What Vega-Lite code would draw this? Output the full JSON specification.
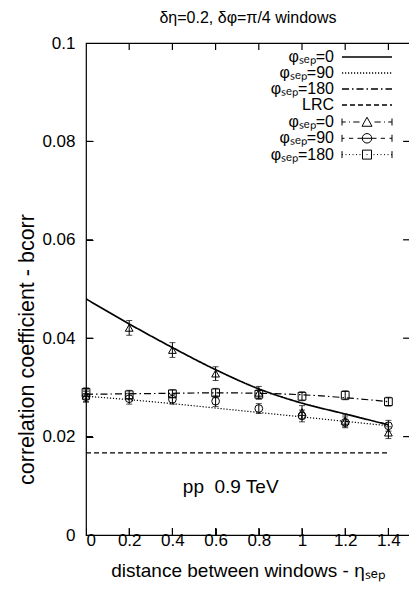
{
  "$schema": "https://vega.github.io/schema/vega-lite/v6.json",
  "width": 324,
  "height": 492,
  "autosize": {"type": "none"},
  "padding": {"left": 86, "top": 43, "right": 0, "bottom": 54},
  "title": {"text": "δη=0.2, δφ=π/4 windows", "fontSize": 16, "font": "Liberation Sans", "fontWeight": "normal", "offset": 8, "anchor": "middle", "color": "black"},
  "config": {
    "view": {"stroke": "black", "strokeWidth": 1.2},
    "font": "Liberation Sans",
    "legend": {"padding": 0},
    "axis": {"labelFont": "Liberation Sans", "labelFontSize": 17, "labelColor": "black", "titleFont": "Liberation Sans", "titleFontWeight": "normal", "titleColor": "black", "domain": false, "grid": false, "offset": -7}
  },
  "datasets": {
    "curves": [
      {"x": 0, "y": 0.048, "curve": "φₛₑₚ=0"},
      {"x": 0.2, "y": 0.0429, "curve": "φₛₑₚ=0"},
      {"x": 0.4, "y": 0.0381, "curve": "φₛₑₚ=0"},
      {"x": 0.6, "y": 0.0336, "curve": "φₛₑₚ=0"},
      {"x": 0.8, "y": 0.0297, "curve": "φₛₑₚ=0"},
      {"x": 1.0, "y": 0.0268, "curve": "φₛₑₚ=0"},
      {"x": 1.2, "y": 0.0246, "curve": "φₛₑₚ=0"},
      {"x": 1.4, "y": 0.0224, "curve": "φₛₑₚ=0"},
      {"x": 0, "y": 0.0282, "curve": "φₛₑₚ=90"},
      {"x": 0.2, "y": 0.0275, "curve": "φₛₑₚ=90"},
      {"x": 0.4, "y": 0.0267, "curve": "φₛₑₚ=90"},
      {"x": 0.6, "y": 0.0258, "curve": "φₛₑₚ=90"},
      {"x": 0.8, "y": 0.0249, "curve": "φₛₑₚ=90"},
      {"x": 1.0, "y": 0.024, "curve": "φₛₑₚ=90"},
      {"x": 1.2, "y": 0.0231, "curve": "φₛₑₚ=90"},
      {"x": 1.4, "y": 0.0222, "curve": "φₛₑₚ=90"},
      {"x": 0, "y": 0.0286, "curve": "φₛₑₚ=180"},
      {"x": 0.2, "y": 0.0287, "curve": "φₛₑₚ=180"},
      {"x": 0.4, "y": 0.0288, "curve": "φₛₑₚ=180"},
      {"x": 0.6, "y": 0.0289, "curve": "φₛₑₚ=180"},
      {"x": 0.8, "y": 0.0288, "curve": "φₛₑₚ=180"},
      {"x": 1.0, "y": 0.0285, "curve": "φₛₑₚ=180"},
      {"x": 1.2, "y": 0.0279, "curve": "φₛₑₚ=180"},
      {"x": 1.4, "y": 0.0271, "curve": "φₛₑₚ=180"},
      {"x": 0, "y": 0.0167, "curve": "LRC"},
      {"x": 1.4, "y": 0.0167, "curve": "LRC"}
    ],
    "points": [
      {"x": 0, "y": 0.0283, "err": 0.0012, "pts": "φₛₑₚ=0 "},
      {"x": 0.2, "y": 0.0421, "err": 0.0015, "pts": "φₛₑₚ=0 "},
      {"x": 0.4, "y": 0.0376, "err": 0.0015, "pts": "φₛₑₚ=0 "},
      {"x": 0.6, "y": 0.0328, "err": 0.0014, "pts": "φₛₑₚ=0 "},
      {"x": 0.8, "y": 0.0289, "err": 0.0013, "pts": "φₛₑₚ=0 "},
      {"x": 1.0, "y": 0.025, "err": 0.0013, "pts": "φₛₑₚ=0 "},
      {"x": 1.2, "y": 0.0232, "err": 0.0012, "pts": "φₛₑₚ=0 "},
      {"x": 1.4, "y": 0.0208, "err": 0.0012, "pts": "φₛₑₚ=0 "},
      {"x": 0, "y": 0.0281, "err": 0.0011, "pts": "φₛₑₚ=90 "},
      {"x": 0.2, "y": 0.0277, "err": 0.0011, "pts": "φₛₑₚ=90 "},
      {"x": 0.4, "y": 0.0276, "err": 0.0010, "pts": "φₛₑₚ=90 "},
      {"x": 0.6, "y": 0.0272, "err": 0.0011, "pts": "φₛₑₚ=90 "},
      {"x": 0.8, "y": 0.0257, "err": 0.0010, "pts": "φₛₑₚ=90 "},
      {"x": 1.0, "y": 0.0242, "err": 0.0012, "pts": "φₛₑₚ=90 "},
      {"x": 1.2, "y": 0.0229, "err": 0.0011, "pts": "φₛₑₚ=90 "},
      {"x": 1.4, "y": 0.0222, "err": 0.0011, "pts": "φₛₑₚ=90 "},
      {"x": 0, "y": 0.029, "err": 0.0009, "pts": "φₛₑₚ=180 "},
      {"x": 0.2, "y": 0.0285, "err": 0.0009, "pts": "φₛₑₚ=180 "},
      {"x": 0.4, "y": 0.0287, "err": 0.0008, "pts": "φₛₑₚ=180 "},
      {"x": 0.6, "y": 0.0289, "err": 0.0009, "pts": "φₛₑₚ=180 "},
      {"x": 0.8, "y": 0.0286, "err": 0.0009, "pts": "φₛₑₚ=180 "},
      {"x": 1.0, "y": 0.0282, "err": 0.0009, "pts": "φₛₑₚ=180 "},
      {"x": 1.2, "y": 0.0284, "err": 0.0009, "pts": "φₛₑₚ=180 "},
      {"x": 1.4, "y": 0.0271, "err": 0.0009, "pts": "φₛₑₚ=180 "}
    ],
    "xticks": [{"t": 0.2}, {"t": 0.4}, {"t": 0.6}, {"t": 0.8}, {"t": 1.0}, {"t": 1.2}, {"t": 1.4}],
    "yticks": [{"t": 0.02}, {"t": 0.04}, {"t": 0.06}, {"t": 0.08}]
  },
  "resolve": {"axis": {"x": "independent", "y": "independent"}, "scale": {"shape": "independent"}},
  "layer": [
    {
      "data": {"name": "curves"},
      "mark": {"type": "line", "color": "black", "interpolate": "monotone", "clip": true},
      "encoding": {
        "x": {"field": "x", "type": "quantitative", "scale": {"domain": [0, 1.5], "nice": false, "zero": false},
              "axis": {"orient": "bottom", "values": [0, 0.2, 0.4, 0.6, 0.8, 1, 1.2, 1.4], "format": "~g", "title": "distance between windows - ηₛₑₚ", "titleFontSize": 19, "labelPadding": -3, "titlePadding": 13, "ticks": true, "tickSize": 7, "tickColor": "#000000"}},
        "y": {"field": "y", "type": "quantitative", "scale": {"domain": [0, 0.1], "nice": false, "zero": false},
              "axis": {"orient": "left", "values": [0, 0.02, 0.04, 0.06, 0.08, 0.1], "format": "~g", "title": "correlation coefficient - bcorr", "titleFontSize": 21.5, "labelPadding": 11, "titleX": -66, "titleY": 306, "titleBaseline": "middle", "titleAnchor": "middle", "ticks": true, "tickSize": 7, "tickColor": "#000000"}},
        "strokeDash": {"field": "curve", "type": "nominal",
          "scale": {"domain": ["φₛₑₚ=0", "φₛₑₚ=90", "φₛₑₚ=180", "LRC"], "range": [[1, 0], [1.2, 1.8], [7, 3, 1.5, 3], [5, 3]]},
          "legend": {"title": null, "orient": "none", "legendX": 255, "legendY": 6, "symbolType": "M-5,0L5,0", "symbolSize": 100, "symbolStrokeColor": "black", "symbolStrokeWidth": 1.3, "symbolOffset": 18, "labelAlign": "right", "labelOffset": -41, "labelFontSize": 16, "labelFont": "Liberation Sans", "rowPadding": 0, "labelColor": "black"}},
        "strokeWidth": {"condition": {"test": "datum.curve == 'φₛₑₚ=0'", "value": 1.7}, "value": 1.2}
      }
    },
    {
      "data": {"name": "points"},
      "mark": {"type": "errorbar", "ticks": {"size": 6, "color": "black"}, "color": "black", "thickness": 1},
      "encoding": {
        "x": {"field": "x", "type": "quantitative", "axis": null},
        "y": {"field": "y", "type": "quantitative", "axis": null},
        "yError": {"field": "err"},
        "detail": {"field": "pts", "type": "nominal"}
      }
    },
    {
      "data": {"name": "points"},
      "mark": {"type": "point", "filled": false, "color": "black", "size": 60, "strokeWidth": 1, "opacity": 1},
      "encoding": {
        "x": {"field": "x", "type": "quantitative", "axis": null},
        "y": {"field": "y", "type": "quantitative", "axis": null},
        "shape": {"field": "pts", "type": "nominal",
          "scale": {"domain": ["φₛₑₚ=0 ", "φₛₑₚ=90 ", "φₛₑₚ=180 "], "range": ["triangle-up", "circle", "square"]},
          "legend": null}
      }
    },
    {
      "data": {"name": "points"},
      "mark": {"type": "point", "filled": false, "color": "black", "opacity": 0, "size": 100},
      "encoding": {
        "x": {"field": "x", "type": "quantitative", "axis": null},
        "y": {"field": "y", "type": "quantitative", "axis": null},
        "shape": {"field": "pts", "type": "nominal",
          "scale": {"domain": ["φₛₑₚ=0 ", "φₛₑₚ=90 ", "φₛₑₚ=180 "], "range": [
            "M-5,-0.7L-5,0.7M5,-0.7L5,0.7M-5,0L-4.25,0M-3.6,0L-3.4,0M-2.75,0L-1.5,0M1.5,0L2.75,0M3.4,0L3.6,0M4.25,0L5,0M-1,0.85L1,0.85L0,-0.95Z",
            "M-5,-0.7L-5,0.7M5,-0.7L5,0.7M-5,0L-4.5,0M-3.6,0L-2.75,0M-1.9,0L-0.95,0M0.95,0L1.9,0M2.75,0L3.6,0M4.5,0L5,0M-0.95,0L0.95,0M0.95,0A0.95,0.95 0 1 1 -0.95,0A0.95,0.95 0 1 1 0.95,0Z",
            "M-5,-0.7L-5,0.7M5,-0.7L5,0.7M-5,0L-4.8,0M-4.3,0L-4.1,0M-3.6,0L-3.4,0M-2.9,0L-2.7,0M-2.2,0L-2,0M-1.5,0L-1.3,0M1.3,0L1.5,0M2,0L2.2,0M2.7,0L2.9,0M3.4,0L3.6,0M4.1,0L4.3,0M4.8,0L5,0M-0.1,0L0.1,0M-0.9,-0.9L0.9,-0.9L0.9,0.9L-0.9,0.9Z"]},
          "legend": {"title": null, "orient": "none", "legendX": 255, "legendY": 71, "symbolSize": 100, "symbolOpacity": 1, "symbolStrokeColor": "black", "symbolStrokeWidth": 1, "symbolFillColor": "transparent", "symbolOffset": 18, "labelAlign": "right", "labelOffset": -41, "labelFontSize": 16, "labelFont": "Liberation Sans", "rowPadding": 0.3, "labelColor": "black"}}
      }
    },
    {
      "data": {"name": "xticks"},
      "mark": {"type": "rule", "color": "black", "strokeWidth": 1.2},
      "encoding": {
        "x": {"field": "t", "type": "quantitative", "axis": null},
        "y": {"datum": 0, "type": "quantitative", "axis": null},
        "y2": {"datum": 0.0014}
      }
    },
    {
      "data": {"name": "xticks"},
      "mark": {"type": "rule", "color": "black", "strokeWidth": 1.2},
      "encoding": {
        "x": {"field": "t", "type": "quantitative", "axis": null},
        "y": {"datum": 0.1, "type": "quantitative", "axis": null},
        "y2": {"datum": 0.0986}
      }
    },
    {
      "data": {"name": "yticks"},
      "mark": {"type": "rule", "color": "black", "strokeWidth": 1.2},
      "encoding": {
        "y": {"field": "t", "type": "quantitative", "axis": null},
        "x": {"datum": 0, "type": "quantitative", "axis": null},
        "x2": {"datum": 0.032}
      }
    },
    {
      "data": {"name": "yticks"},
      "mark": {"type": "rule", "color": "black", "strokeWidth": 1.2},
      "encoding": {
        "y": {"field": "t", "type": "quantitative", "axis": null},
        "x": {"datum": 1.5, "type": "quantitative", "axis": null},
        "x2": {"datum": 1.468}
      }
    },
    {
      "data": {"values": [{"label": "pp\u00a0\u00a00.9 TeV"}]},
      "mark": {"type": "text", "fontSize": 19, "font": "Liberation Sans", "color": "black", "align": "center", "baseline": "middle"},
      "encoding": {
        "x": {"datum": 0.67, "type": "quantitative", "axis": null},
        "y": {"datum": 0.0098, "type": "quantitative", "axis": null},
        "text": {"field": "label"}
      }
    }
  ]
}
